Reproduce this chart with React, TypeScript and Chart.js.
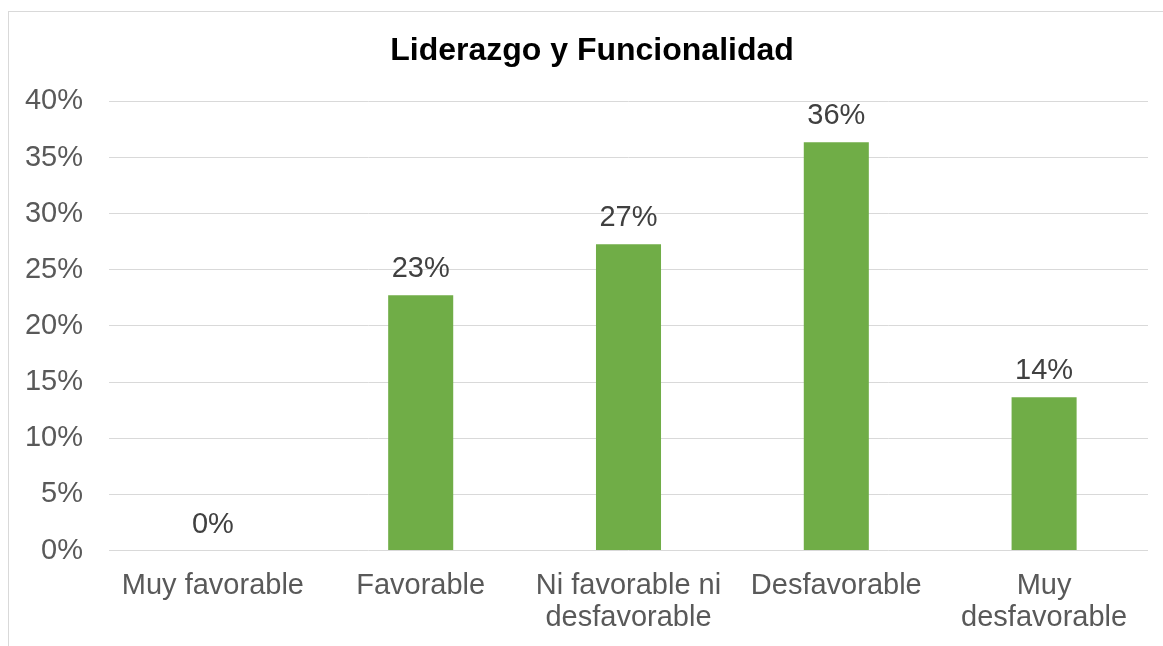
import React, { useEffect, useRef } from "react";
import { Chart, registerables } from "chart.js";

Chart.register(...registerables);

const TITLE = "Liderazgo y Funcionalidad";
const CATEGORIES: (string | string[])[] = [
  "Muy favorable",
  "Favorable",
  ["Ni favorable ni", "desfavorable"],
  "Desfavorable",
  ["Muy", "desfavorable"],
];
const VALUES = [0, 0.2273, 0.2727, 0.3636, 0.1364];
const Y_MIN = 0;
const Y_MAX = 0.4;
const Y_STEP = 0.05;

const FONT = '"Liberation Sans", Arial, Helvetica, sans-serif';
const BAR_COLOR = "#70AD47";
const GRID_COLOR = "#D9D9D9";
const TICK_COLOR = "#595959";
const LABEL_COLOR = "#404040";

const pct = (v: number) => `${Math.round(v * 100)}%`;

const dataLabels = {
  id: "dataLabels",
  afterLayout(chart: any) {
    // centre the title the way the original (offset to the right of the canvas centre)
    if (chart.titleBlock) chart.titleBlock.left += 27;
  },
  afterDatasetsDraw(chart: any) {
    const ctx = chart.ctx;
    const meta = chart.getDatasetMeta(0);
    ctx.save();
    ctx.font = `29px ${FONT}`;
    ctx.fillStyle = LABEL_COLOR;
    ctx.textAlign = "center";
    ctx.textBaseline = "alphabetic";
    meta.data.forEach((bar: any, i: number) => {
      ctx.fillText(pct(VALUES[i]), bar.x, bar.y - 18);
    });
    ctx.restore();
  },
};

export default function App() {
  const ref = useRef<HTMLCanvasElement | null>(null);

  useEffect(() => {
    if (!ref.current) return;
    const chart = new Chart(ref.current, {
      type: "bar",
      data: {
        labels: CATEGORIES,
        datasets: [
          {
            data: VALUES,
            backgroundColor: BAR_COLOR,
            borderWidth: 0,
            categoryPercentage: 1,
            barPercentage: 0.313,
          },
        ],
      },
      options: {
        responsive: false,
        animation: false,
        layout: { padding: { left: 0, right: 15, top: 0, bottom: 0 } },
        plugins: {
          legend: { display: false },
          tooltip: { enabled: false },
          title: {
            display: true,
            text: TITLE,
            color: "#000000",
            font: { family: FONT, size: 32, weight: "bold", lineHeight: 1.2 },
            padding: { top: 20, bottom: 31 },
          },
        },
        scales: {
          x: {
            grid: { display: false, drawTicks: false },
            border: { display: false },
            ticks: {
              color: TICK_COLOR,
              font: { family: FONT, size: 29, lineHeight: 1.093 },
              padding: 20,
              maxRotation: 0,
              autoSkip: false,
            },
            afterFit: (s: any) => {
              s.height = 95.5;
            },
          },
          y: {
            min: Y_MIN,
            max: Y_MAX,
            grid: { color: GRID_COLOR, lineWidth: 1, drawTicks: false },
            border: { display: false },
            ticks: {
              stepSize: Y_STEP,
              color: TICK_COLOR,
              font: { family: FONT, size: 29 },
              padding: 26,
              callback: (v: any) => pct(Number(v)),
            },
            afterFit: (s: any) => {
              s.width = 100;
            },
          },
        },
      },
      plugins: [dataLabels],
    });
    return () => chart.destroy();
  }, []);

  return (
    <div
      style={{
        position: "fixed",
        left: 0,
        top: 0,
        width: 1163,
        height: 646,
        overflow: "hidden",
        background: "#ffffff",
      }}
    >
      <div
        style={{
          position: "absolute",
          left: 8,
          top: 11,
          width: 1200,
          height: 700,
          border: "1px solid #D9D9D9",
          boxSizing: "border-box",
        }}
      />
      <canvas
        ref={ref}
        width={1154}
        height={634}
        style={{ position: "absolute", left: 9, top: 12, width: 1154, height: 634 }}
      />
    </div>
  );
}
